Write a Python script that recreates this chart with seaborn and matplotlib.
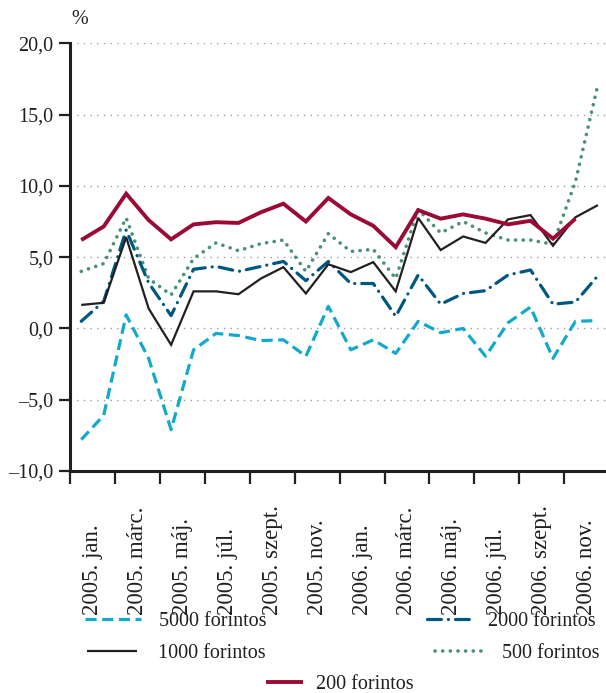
import numpy as np
import pandas as pd
import matplotlib
matplotlib.use("Agg")
import matplotlib.pyplot as plt
import seaborn as sns
from matplotlib.lines import Line2D

# ---------------- data ----------------
months = list(range(24))  # 2005 jan ... 2006 dec
tick_labels = ["2005. jan.", "2005. márc.", "2005. máj.", "2005. júl.",
               "2005. szept.", "2005. nov.", "2006. jan.", "2006. márc.",
               "2006. máj.", "2006. júl.", "2006. szept.", "2006. nov."]
y_ticks = [-10, -5, 0, 5, 10, 15, 20]
y_tick_labels = ["\u201310,0", "\u20135,0", "0,0", "5,0", "10,0", "15,0", "20,0"]

ft5000 = [-7.8, -6.1, 0.95, -2.1, -7.1, -1.5, -0.35, -0.5, -0.85, -0.8, -1.95, 1.55,
          -1.5, -0.8, -1.75, 0.5, -0.3, 0.0, -1.95, 0.4, 1.5, -2.1, 0.5, 0.55]
ft2000 = [0.5, 1.9, 6.9, 3.2, 0.9, 4.15, 4.35, 4.0, 4.35, 4.7, 3.35, 4.7,
          3.15, 3.15, 0.85, 3.75, 1.7, 2.45, 2.65, 3.75, 4.1, 1.7, 1.85, 3.7]
ft1000 = [1.65, 1.8, 6.4, 1.4, -1.15, 2.6, 2.6, 2.4, 3.5, 4.3, 2.45, 4.5,
          3.95, 4.65, 2.6, 7.75, 5.5, 6.45, 6.0, 7.65, 7.95, 5.8, 7.8, 8.65]
ft500 = [4.0, 4.55, 7.75, 3.5, 2.35, 4.9, 6.0, 5.45, 5.95, 6.2, 4.0, 6.65,
         5.4, 5.55, 3.5, 8.35, 6.7, 7.5, 6.7, 6.2, 6.2, 5.9, 10.3, 17.1]
ft200 = [6.2, 7.15, 9.45, 7.6, 6.25, 7.3, 7.45, 7.4, 8.15, 8.75, 7.5, 9.15,
         8.0, 7.2, 5.7, 8.3, 7.7, 8.0, 7.7, 7.3, 7.55, 6.3, 7.7, np.nan]

names = ["5000 forintos", "2000 forintos", "1000 forintos", "500 forintos", "200 forintos"]
values = [ft5000, ft2000, ft1000, ft500, ft200]

# ---------------- style ----------------
sns.set_style("white")
plt.rcParams["font.family"] = ["Liberation Serif", "DejaVu Serif"]
plt.rcParams["lines.scale_dashes"] = False

DARK = "#231f20"
colors = {"5000 forintos": "#12aacb", "2000 forintos": "#00587f",
          "1000 forintos": "#231f20", "500 forintos": "#4a9175",
          "200 forintos": "#9b0a35"}
widths = {"5000 forintos": 2.3, "2000 forintos": 2.3, "1000 forintos": 1.6,
          "500 forintos": 2.6, "200 forintos": 2.8}
dashes = {"5000 forintos": (8, 4), "2000 forintos": (10, 5, 0.1, 5),
          "1000 forintos": None, "500 forintos": (0.1, 5.4), "200 forintos": None}
caps = {"5000 forintos": "butt", "2000 forintos": "round", "1000 forintos": "round",
        "500 forintos": "round", "200 forintos": "round"}
zorders = {"500 forintos": 2, "5000 forintos": 3, "2000 forintos": 4,
           "1000 forintos": 5, "200 forintos": 6}

W, H = 606, 693
fig = plt.figure(figsize=(W / 100, H / 100), dpi=100)
ax = fig.add_axes([70 / W, 1 - 471 / H, 1 - 70 / W, (471 - 43.3) / H])

for name, vals in zip(names, values):
    df = pd.DataFrame({"month": months, "value": vals}).dropna()
    sns.lineplot(data=df, x="month", y="value", ax=ax, color=colors[name],
                 lw=widths[name], legend=False)
    ln = ax.lines[-1]
    if dashes[name] is not None:
        ln.set_dashes(dashes[name])
    ln.set_dash_capstyle(caps[name])
    ln.set_solid_capstyle("butt")
    ln.set_solid_joinstyle("miter")
    ln.set_zorder(zorders[name])

ax.set_xlim(-0.5, 23.36)
ax.set_ylim(-10, 20)
ax.set_xlabel("")
ax.set_ylabel("")

# y axis
ax.set_yticks(y_ticks)
ax.set_yticklabels(y_tick_labels)
ax.tick_params(axis="y", direction="out", length=8, width=1.6, color=DARK,
               labelsize=14.5, labelcolor=DARK, pad=4, left=True)

# x axis: boundary ticks (major) and centered labels (minor)
major = [-0.5 + 2 * k for k in range(12)]
ax.set_xticks(major)
ax.set_xticklabels([""] * len(major))
label_pos = [0.5 + 2 * k for k in range(len(tick_labels))]
ax.set_xticks(label_pos, minor=True)
ax.set_xticklabels(tick_labels, minor=True, rotation=90)
ax.tick_params(axis="x", which="major", direction="out", length=9.5, width=1.6,
               color=DARK, bottom=True)
ax.tick_params(axis="x", which="minor", length=0, labelsize=16.5,
               labelcolor=DARK, pad=103.5)
for lbl in ax.get_xticklabels(minor=True):
    lbl.set_va("bottom")
    lbl.set_ha("center")

for s in ["top", "right"]:
    ax.spines[s].set_visible(False)
for s in ["left", "bottom"]:
    ax.spines[s].set_linewidth(2.2)
    ax.spines[s].set_color(DARK)

ax.yaxis.grid(True, linestyle=(0, (1.0, 3.8)), color="#9c9c9c", lw=1.0)
ax.xaxis.grid(False)
ax.set_axisbelow(True)

fig.text(80 / W, 1 - 20 / H, "%", fontsize=14.5, color=DARK, ha="center", va="center")

# legend (one entry per block to reproduce the layout)
leg_spec = [
    ("5000 forintos", 85, 621, 2.8, 0.85),
    ("2000 forintos", 427, 621, 2.15, 0.9),
    ("1000 forintos", 87, 653, 2.5, 1.05),
    ("500 forintos", 435, 653, 2.4, 0.95),
    ("200 forintos", 266, 684, 1.85, 0.65),
]
for name, x, y, hl, tp in leg_spec:
    h = Line2D([], [], color=colors[name], lw=widths[name])
    if dashes[name] is not None:
        h.set_dashes(dashes[name])
    h.set_dash_capstyle(caps[name])
    h.set_solid_capstyle("butt")
    fig.legend(handles=[h], labels=[name], loc="center left",
               bbox_to_anchor=(x / W, 1 - y / H), frameon=False, borderpad=0,
               borderaxespad=0, handlelength=hl, handletextpad=tp,
               fontsize=14.5, labelcolor=DARK)

fig.savefig("out.png", dpi=100)
